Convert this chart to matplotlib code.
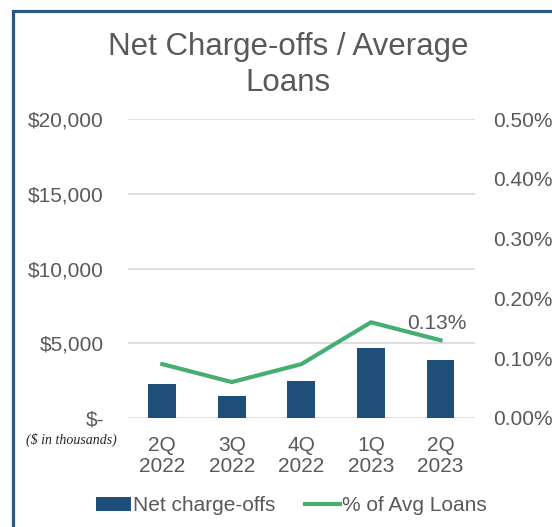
import matplotlib.pyplot as plt
from matplotlib.patches import Rectangle
from matplotlib.ticker import FuncFormatter

plt.rcParams["font.family"] = ["Liberation Sans", "DejaVu Sans"]

quarters = ["2Q\n2022", "3Q\n2022", "4Q\n2022", "1Q\n2023", "2Q\n2023"]
net_charge_offs = [2300, 1500, 2500, 4700, 3900]  # $ in thousands
pct_avg_loans = [0.09, 0.06, 0.09, 0.16, 0.13]  # percent

left_ticks = [0, 5000, 10000, 15000, 20000]
right_ticks = [0.0, 0.1, 0.2, 0.3, 0.4, 0.5]

BAR_COLOR = "#1F4E79"
LINE_COLOR = "#45AE72"
TEXT_COLOR = "#595959"
GRID_COLOR = "#D9D9D9"

fig = plt.figure(figsize=(5.52, 5.27), dpi=100)
ax = fig.add_axes([0.231, 0.207, 0.630, 0.567])
ax2 = ax.twinx()

x = list(range(len(quarters)))
bars = ax.bar(x, net_charge_offs, width=0.4, color=BAR_COLOR, zorder=2,
              label="Net charge-offs")
line, = ax2.plot(x, pct_avg_loans, color=LINE_COLOR, lw=3, zorder=3,
                 label="% of Avg Loans")

ax.set_xlim(-0.5, len(quarters) - 0.5)
ax.set_ylim(0, 20000)
ax2.set_ylim(0, 0.5)

ax.set_yticks(left_ticks)
ax.yaxis.set_major_formatter(
    FuncFormatter(lambda v, p: "$-" if v == 0 else f"${v:,.0f}"))
ax2.set_yticks(right_ticks)
ax2.yaxis.set_major_formatter(FuncFormatter(lambda v, p: f"{v:.2f}%"))

ax.set_xticks(x)
ax.set_xticklabels(quarters, linespacing=1.15)

for a in (ax, ax2):
    for s in a.spines.values():
        s.set_visible(False)
    a.tick_params(length=0, labelsize=15, labelcolor=TEXT_COLOR)
ax.tick_params(axis="y", pad=17)
ax.tick_params(axis="x", pad=13)
ax2.tick_params(axis="y", pad=13)
ax.yaxis.grid(True, color=GRID_COLOR, lw=1.2, zorder=0)
ax.set_axisbelow(True)

# label on the last point of the line
ax2.annotate(f"{pct_avg_loans[-1]:.2f}%", (x[-1], pct_avg_loans[-1]),
             xytext=(-3, 5), textcoords="offset points", ha="center",
             va="bottom", fontsize=15, color=TEXT_COLOR)

# two-line title
fig.text(0.522, 1 - 55 / 527, "Net Charge-offs / Average", ha="center",
         va="baseline", fontsize=22.5, color=TEXT_COLOR)
fig.text(0.522, 1 - 91 / 527, "Loans", ha="center",
         va="baseline", fontsize=22.5, color=TEXT_COLOR)

fig.text(0.129, 0.165, "($ in thousands)", ha="center", va="center",
         fontsize=10, style="italic", family="Liberation Serif", color="#262626")

fig.legend(handles=[bars, line], loc="center", bbox_to_anchor=(0.528, 0.040),
           ncol=2, frameon=False, fontsize=15, labelcolor=TEXT_COLOR,
           handlelength=1.7, handletextpad=0.1, columnspacing=1.4)

# outer frame around the chart
fig.patches.append(Rectangle((13 / 552, -0.05), 1.0, 1 - 10.5 / 527 + 0.05,
                             transform=fig.transFigure, fill=False,
                             edgecolor="#2B5784", lw=2.3))

fig.savefig("out.png", dpi=100)
